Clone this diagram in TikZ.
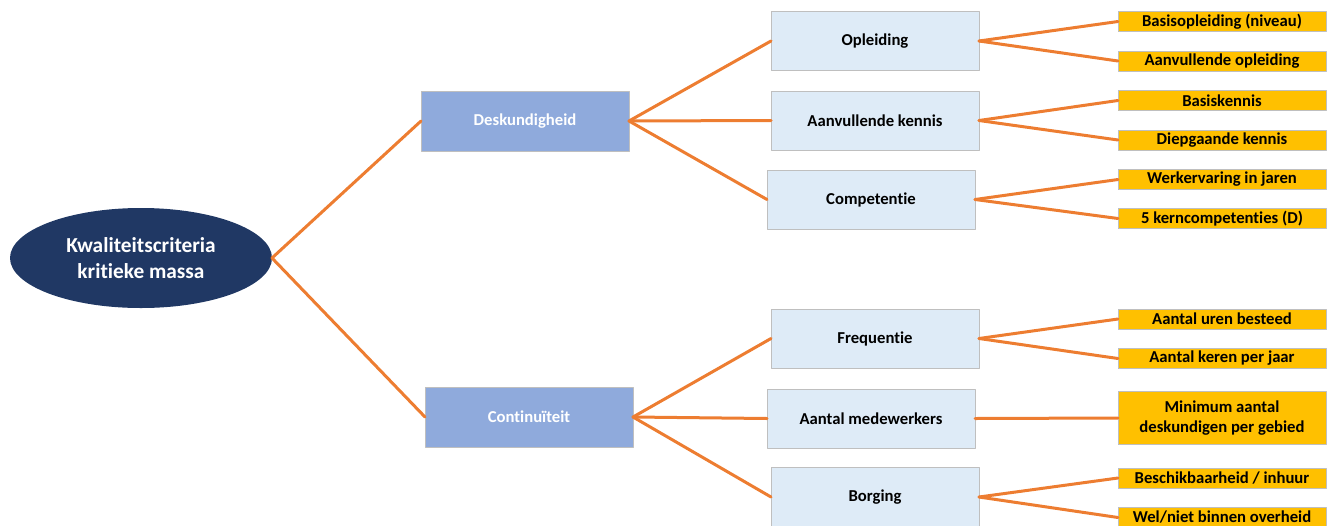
\documentclass[tikz,border=0pt]{standalone}
\usepackage{fontspec}
\setmainfont{Carlito}[Ligatures=NoCommon]
\usepackage{tikz}
\usetikzlibrary{shapes.geometric}
\definecolor{donkerblauw}{HTML}{203864}
\definecolor{middenblauw}{HTML}{8FAADC}
\definecolor{lichtblauw}{HTML}{DEEBF7}
\definecolor{randgrijs}{HTML}{BFBFBF}
\definecolor{lijnoranje}{HTML}{ED7D31}
\definecolor{vakgeel}{HTML}{FFC000}

\begin{document}
\begin{tikzpicture}[x=0.75pt,y=-0.75pt,line cap=round,line join=round,
	hoofd/.style={ellipse,fill=donkerblauw,text=white,minimum width=196.5pt,minimum height=75pt,inner sep=0pt,outer sep=0pt,align=center,font=\fontsize{16}{20}\selectfont\bfseries},
	niveau1/.style={draw=randgrijs,line width=0.75pt,fill=middenblauw,text=white,minimum width=156pt,minimum height=45pt,inner sep=0pt,outer sep=0pt,font=\fontsize{12.5}{15}\selectfont\bfseries},
	niveau2/.style={draw=randgrijs,line width=0.75pt,fill=lichtblauw,minimum width=156pt,minimum height=44.25pt,inner sep=0pt,outer sep=0pt,font=\fontsize{12.5}{15}\selectfont\bfseries},
	blad/.style={draw=randgrijs,line width=0.75pt,fill=vakgeel,minimum width=156pt,minimum height=15pt,inner sep=0pt,outer sep=0pt,align=center,font=\fontsize{12.5}{15}\selectfont\bfseries},
	verbinding/.style={draw=lijnoranje,line width=2.25pt}]

		\useasboundingbox (0,0) rectangle (1330,525);
		\clip (0,0) rectangle (1330,525);

		%hoofdknoop
		\node[hoofd] (krit) at (141,258) {Kwaliteitscriteria\\kritieke massa};

		%eerste niveau
		\node[niveau1] (desk) at (525,121) {Deskundigheid};
		\node[niveau1,minimum height=45pt] (cont) at (529,417) {Continuïteit};

		%tweede niveau
		\node[niveau2] (opl) at (875,41) {Opleiding};
		\node[niveau2] (aken) at (875,120.5) {Aanvullende kennis};
		\node[niveau2] (comp) at (871,199.5) {Competentie};
		\node[niveau2] (freq) at (875,338.5) {Frequentie};
		\node[niveau2] (amed) at (871,418.5) {Aantal medewerkers};
		\node[niveau2] (borg) at (875,497) {Borging};

		%bladeren
		\node[blad] (basopl) at (1222,21.5) {Basisopleiding (niveau)};
		\node[blad] (aanopl) at (1222,61) {Aanvullende opleiding};
		\node[blad] (baskn) at (1222,100.5) {Basiskennis};
		\node[blad] (diepkn) at (1222,140) {Diepgaande kennis};
		\node[blad] (werk) at (1222,179.5) {Werkervaring in jaren};
		\node[blad] (kern) at (1222,218.5) {5 kerncompetenties (D)};
		\node[blad] (uren) at (1222,319) {Aantal uren besteed};
		\node[blad] (keren) at (1222,358.5) {Aantal keren per jaar};
		\node[blad,minimum height=39.75pt] (mini) at (1222,418) {Minimum aantal\\deskundigen per gebied};
		\node[blad] (besch) at (1222,478) {Beschikbaarheid / inhuur};
		\node[blad] (wel) at (1222,517.5) {Wel/niet binnen overheid};

		%verbindingen
		\foreach \a/\b in {krit/desk,krit/cont}
		{\draw[verbinding] (\a.east) -- (\b.west);}
		\foreach \b in {opl,aken,comp}
		{\draw[verbinding] (desk.east) -- (\b.west);}
		\foreach \b in {freq,amed,borg}
		{\draw[verbinding] (cont.east) -- (\b.west);}
		\foreach \a/\b in {opl/basopl,opl/aanopl,aken/baskn,aken/diepkn,comp/werk,comp/kern,freq/uren,freq/keren,amed/mini,borg/besch,borg/wel}
		{\draw[verbinding] (\a.east) -- (\b.west);}

	\end{tikzpicture}
\end{document}
